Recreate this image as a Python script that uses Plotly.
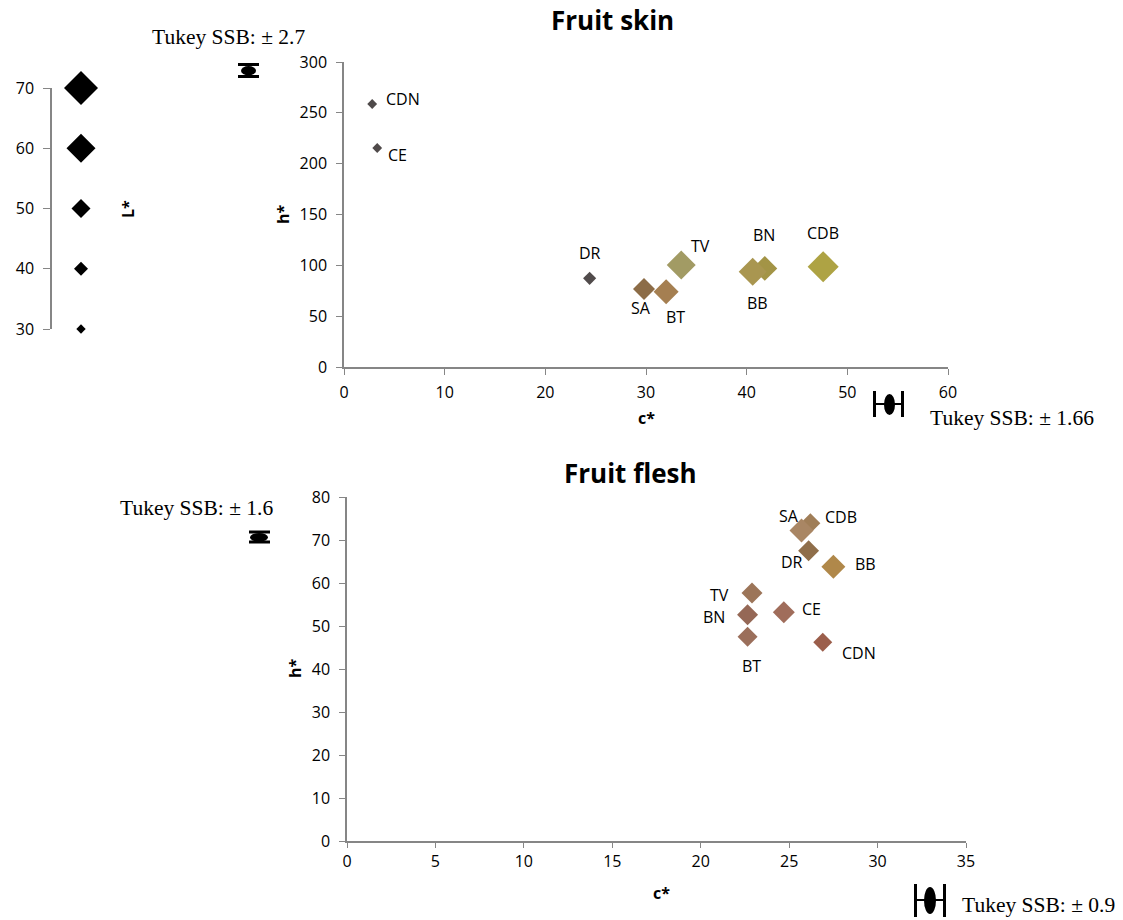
import plotly.graph_objects as go
import numpy as np

W, H = 1123, 920

# ---------------- data ----------------
SKIN_NAMES = ["CDN", "CE", "DR", "SA", "BT", "TV", "BN", "BB", "CDB"]
SKIN_C = [2.8, 3.3, 24.4, 29.8, 32.0, 33.5, 41.8, 40.6, 47.6]
SKIN_H = [258.7, 215.4, 87.2, 76.7, 74.1, 100.3, 97.0, 93.7, 98.7]
SKIN_L = [31, 31, 38, 53, 56, 60, 56, 59, 64]

FLESH_NAMES = ["CDB", "SA", "DR", "BB", "TV", "BN", "BT", "CE", "CDN"]
FLESH_C = [26.2, 25.7, 26.1, 27.5, 22.9, 22.65, 22.65, 24.7, 26.9]
FLESH_H = [73.9, 72.2, 67.5, 63.8, 57.7, 52.6, 47.5, 53.2, 46.2]
FLESH_L = [51, 55, 52, 55, 52, 52, 51, 53, 50]

LEGEND_L = [30, 40, 50, 60, 70]

TUKEY_SKIN_L = "Tukey SSB: ± 2.7"
TUKEY_SKIN_C = "Tukey SSB: ± 1.66"
TUKEY_FLESH_H = "Tukey SSB: ± 1.6"
TUKEY_FLESH_C = "Tukey SSB: ± 0.9"

# ---------------- styles ----------------
SKIN_COLORS = ["#4f4a4a", "#4f4a4a", "#514b4b", "#8c6c47", "#a57f51",
               "#a29b64", "#a39446", "#a99650", "#aea344"]
FLESH_COLORS = ["#a07e58", "#a98664", "#8f6e4a", "#b0884a", "#9c7559",
                "#956856", "#9b6f5b", "#a06d5b", "#9b5e4b"]
LEGEND_SIZES = [7.2, 10.8, 14.6, 22.3, 26.2]

SKIN_LABEL_OFFSETS = {"CDN": (31, -5), "CE": (20, 7), "DR": (0, -25), "SA": (-3, 19),
                      "BT": (9, 25), "TV": (19, -19), "BN": (-1, -33), "BB": (5, 31),
                      "CDB": (0, -34)}
FLESH_LABEL_OFFSETS = {"SA": (-13, -15), "CDB": (31, -6), "DR": (-17, 11), "BB": (32, -3),
                       "TV": (-33, 2), "BN": (-34, 2), "BT": (4, 29), "CE": (28, -3),
                       "CDN": (36, 11)}


def msize(L):
    return list(np.interp(L, LEGEND_L, LEGEND_SIZES))


def px(x):
    return x / W


def py(y):
    return 1 - y / H


AX_COLOR = "#868686"
TICK_FONT = dict(family="Open Sans", size=16, color="#000000")
LABEL_FONT = dict(family="Open Sans", size=16, color="#000000")
SERIF = dict(family="Liberation Serif", size=21.5, color="#000000")

fig = go.Figure()

fig.add_trace(go.Scatter(
    x=SKIN_C, y=SKIN_H, mode="markers", xaxis="x", yaxis="y",
    marker=dict(symbol="diamond", size=msize(SKIN_L), color=SKIN_COLORS, opacity=1,
                line=dict(width=0)),
    cliponaxis=False, showlegend=False, hoverinfo="skip"))

fig.add_trace(go.Scatter(
    x=FLESH_C, y=FLESH_H, mode="markers", xaxis="x2", yaxis="y2",
    marker=dict(symbol="diamond", size=msize(FLESH_L), color=FLESH_COLORS, opacity=1,
                line=dict(width=0)),
    cliponaxis=False, showlegend=False, hoverinfo="skip"))

fig.add_trace(go.Scatter(
    x=[0.5] * len(LEGEND_L), y=LEGEND_L, mode="markers", xaxis="x3", yaxis="y3",
    marker=dict(symbol="diamond", size=msize(LEGEND_L), color="#000000", opacity=1,
                line=dict(width=0)),
    cliponaxis=False, showlegend=False, hoverinfo="skip"))

axis_common = dict(showgrid=False, zeroline=False, showline=True, linecolor=AX_COLOR,
                   linewidth=1.5, ticks="outside", tickcolor=AX_COLOR,
                   tickwidth=1.3, tickfont=TICK_FONT, automargin=False)

fig.update_layout(
    width=W, height=H, margin=dict(l=0, r=0, t=0, b=0, autoexpand=False),
    paper_bgcolor="white", plot_bgcolor="white",
    xaxis=dict(domain=[px(344), px(948)], range=[0, 60], dtick=10, anchor="y",
               ticklen=6, ticklabelstandoff=4, **axis_common),
    yaxis=dict(domain=[py(367), py(62)], range=[0, 300], dtick=50, anchor="x",
               ticklen=6, ticklabelstandoff=6, **axis_common),
    xaxis2=dict(domain=[px(347), px(966)], range=[0, 35], dtick=5, anchor="y2",
                ticklen=5, ticklabelstandoff=0, **axis_common),
    yaxis2=dict(domain=[py(841), py(497)], range=[0, 80], dtick=10, anchor="x2",
                ticklen=6, ticklabelstandoff=6, **axis_common),
    xaxis3=dict(domain=[px(52), px(110)], range=[0, 1], visible=False, anchor="y3",
                automargin=False),
    yaxis3=dict(domain=[py(329), py(88)], range=[30, 70], dtick=10, anchor="x3",
                ticklen=7, ticklabelstandoff=6, **axis_common),
)

ann = []
for n, c, h in zip(SKIN_NAMES, SKIN_C, SKIN_H):
    dx, dy = SKIN_LABEL_OFFSETS[n]
    ann.append(dict(x=c, y=h, xref="x", yref="y", text=n, showarrow=False,
                    xshift=dx, yshift=-dy, font=LABEL_FONT))
for n, c, h in zip(FLESH_NAMES, FLESH_C, FLESH_H):
    dx, dy = FLESH_LABEL_OFFSETS[n]
    ann.append(dict(x=c, y=h, xref="x2", yref="y2", text=n, showarrow=False,
                    xshift=dx, yshift=-dy, font=LABEL_FONT))


def paper_text(text, x, y, font, angle=0):
    return dict(x=px(x), y=py(y), xref="paper", yref="paper", text=text, showarrow=False,
                xanchor="center", yanchor="middle", font=font, textangle=angle)


BOLD_AX = dict(family="Open Sans", size=16, color="#000000", weight="bold")
TITLE_FONT = dict(family="Open Sans", size=26, color="#000000", weight="bold")
ann += [
    paper_text("Fruit skin", 612, 20, TITLE_FONT),
    paper_text("Fruit flesh", 630, 473, TITLE_FONT),
    paper_text("h*", 283, 214, BOLD_AX, -90),
    paper_text("c*", 646, 418, BOLD_AX),
    paper_text("h*", 295, 668, BOLD_AX, -90),
    paper_text("c*", 661, 893, BOLD_AX),
    paper_text("L*", 128, 209, BOLD_AX, -90),
    paper_text(TUKEY_SKIN_L, 228, 37, SERIF),
    paper_text(TUKEY_SKIN_C, 1012, 418, SERIF),
    paper_text(TUKEY_FLESH_H, 196, 508, SERIF),
    paper_text(TUKEY_FLESH_C, 1038, 905, SERIF),
]
fig.update_layout(annotations=ann)

shapes = []


def line(x0, y0, x1, y1, w=3):
    shapes.append(dict(type="line", xref="paper", yref="paper", x0=px(x0), y0=py(y0),
                       x1=px(x1), y1=py(y1), line=dict(color="black", width=w)))


def ellipse(x0, y0, x1, y1):
    shapes.append(dict(type="circle", xref="paper", yref="paper", x0=px(x0), y0=py(y0),
                       x1=px(x1), y1=py(y1), fillcolor="black", line=dict(color="black", width=0)))


# vertical glyph (horizontal caps) near L* legend
line(238, 64.5, 259, 64.5)
line(238, 76.5, 259, 76.5)
ellipse(241, 66, 256, 75.5)
# horizontal glyph near skin c*
line(874.5, 391, 874.5, 417)
line(902.5, 391, 902.5, 417)
line(874.5, 404, 902.5, 404, 2)
ellipse(884, 394, 895, 415)
# vertical glyph near flesh h*
line(249, 532, 270, 532)
line(249, 542, 270, 542)
ellipse(250, 533, 268, 541.7)
# horizontal glyph near flesh c*
line(915.5, 884, 915.5, 917)
line(944.5, 884, 944.5, 917)
line(915.5, 900, 944.5, 900, 2)
ellipse(924, 887, 936, 914)

fig.update_layout(shapes=shapes)

fig.write_html("out.html")
